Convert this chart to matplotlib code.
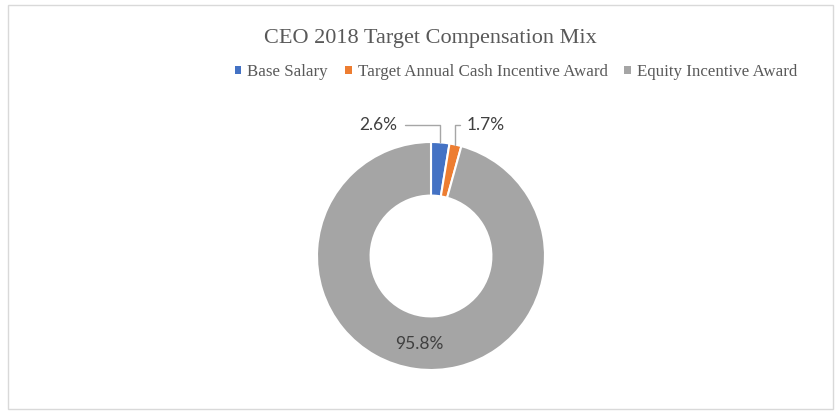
import matplotlib.pyplot as plt
from matplotlib.patches import Patch, Rectangle
import numpy as np

# chart data
labels = ["Base Salary", "Target Annual Cash Incentive Award", "Equity Incentive Award"]
values = [2.6, 1.7, 95.8]
colors = ["#4472C4", "#ED7D31", "#A5A5A5"]
title = "CEO 2018 Target Compensation Mix"

W, H = 840, 415
fig = plt.figure(figsize=(W / 100, H / 100), dpi=100)

# light chart-area border
fig.patches.append(Rectangle((8 / W, 6 / H), 825 / W, 404 / H, transform=fig.transFigure,
                             fill=False, edgecolor="#D9D9D9", linewidth=1.0))

fig.text(430 / W, 1 - 38 / H, title, ha="center", va="center",
         family="Liberation Serif", fontsize=16, color="#595959")

handles = [Patch(facecolor=c, edgecolor="none") for c in colors]
fig.legend(handles, labels, loc="center", bbox_to_anchor=(516 / W, 1 - 72 / H), ncol=3,
           frameon=False, prop={"family": "Liberation Serif", "size": 12.2},
           labelcolor="#595959", handlelength=0.4, handleheight=0.4,
           handletextpad=0.35, columnspacing=1.0)

# donut: radius 1 in data units ~ 114 px, centre at (431, 256)
R = 114
cx, cy = 431, 256
xl, xr = -1.6, 1.6
yb, yt = -1.2, 1.45
ax = fig.add_axes([(cx + xl * R) / W, (H - cy + yb * R) / H,
                   (xr - xl) * R / W, (yt - yb) * R / H])

wedges, _ = ax.pie(values, colors=colors, startangle=90, counterclock=False, radius=1.0,
                   wedgeprops={"width": 0.47, "edgecolor": "white", "linewidth": 1.5})
ax.set_xlim(xl, xr)
ax.set_ylim(yb, yt)
ax.axis("off")

label_font = {"family": "Lato", "size": 12.5, "color": "#404040"}

# 95.8% inside the ring
w = wedges[2]
mid = np.deg2rad((w.theta1 + w.theta2) / 2)
ax.text(0.78 * np.cos(mid), 0.78 * np.sin(mid), f"{values[2]:.1f}%", ha="center",
        va="center", **label_font)

# small slices get leader lines
text_pos = [(-0.46, 1.15), (0.48, 1.15)]
rel = [(1.0, 0.5), (0.0, 0.5)]
for i in range(2):
    w = wedges[i]
    mid = np.deg2rad((w.theta1 + w.theta2) / 2)
    xy = (np.cos(mid), np.sin(mid))
    ax.annotate(f"{values[i]:.1f}%", xy=xy, xytext=text_pos[i], ha="center", va="center",
                arrowprops={"arrowstyle": "-", "color": "#A6A6A6", "lw": 1.0,
                            "connectionstyle": "angle,angleA=0,angleB=90,rad=0",
                            "relpos": rel[i], "shrinkA": 3, "shrinkB": 0},
                **label_font)

fig.savefig("out.png", dpi=100, facecolor="white")
